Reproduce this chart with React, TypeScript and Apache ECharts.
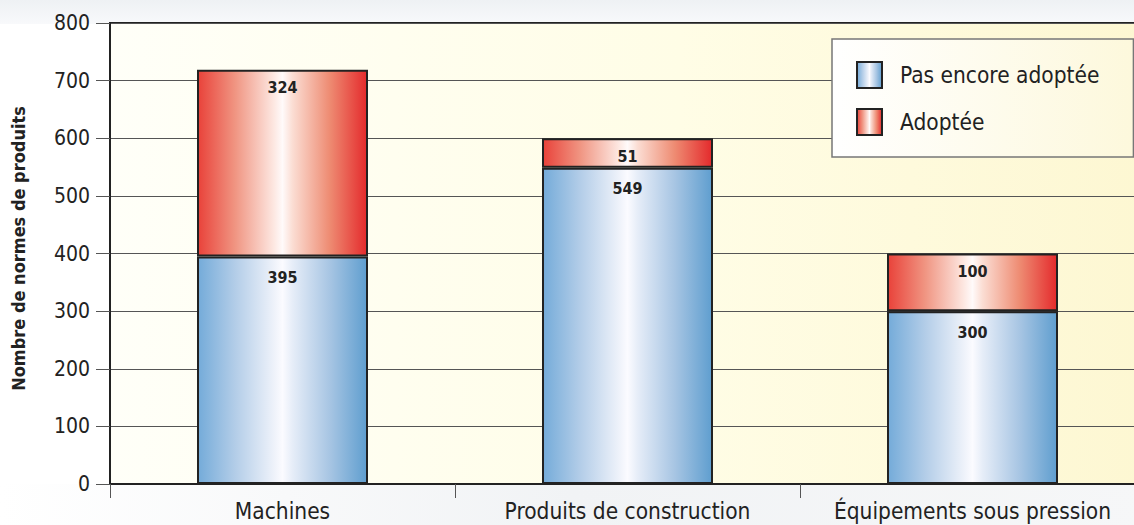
import React, { useEffect, useRef } from "react";
import * as echarts from "echarts";

const categories = ["Machines", "Produits de construction", "Équipements sous pression"];
const notAdopted = [395, 549, 300];
const adopted = [324, 51, 100];
const seriesNames = ["Pas encore adoptée", "Adoptée"];
const yAxisTitle = "Nombre de normes de produits";
const yMin = 0;
const yMax = 800;
const yInterval = 100;

const FONT = "'DejaVu Sans Condensed', 'DejaVu Sans', sans-serif";

const blueGrad = {
  type: "linear", x: 0, y: 0, x2: 1, y2: 0,
  colorStops: [
    { offset: 0, color: "#74abd9" },
    { offset: 0.22, color: "#b3cde8" },
    { offset: 0.45, color: "#eef2fa" },
    { offset: 0.5, color: "#fbfbff" },
    { offset: 0.56, color: "#e6edf8" },
    { offset: 0.78, color: "#a7c5e3" },
    { offset: 1, color: "#5f9ecf" },
  ],
};
const redGrad = {
  type: "linear", x: 0, y: 0, x2: 1, y2: 0,
  colorStops: [
    { offset: 0, color: "#e9423a" },
    { offset: 0.22, color: "#f09582" },
    { offset: 0.45, color: "#fde8e2" },
    { offset: 0.5, color: "#fffafa" },
    { offset: 0.56, color: "#fbddd3" },
    { offset: 0.78, color: "#ee8b72" },
    { offset: 1, color: "#e42a2c" },
  ],
};

export default function App() {
  const ref = useRef<HTMLDivElement>(null);
  useEffect(() => {
    if (!ref.current) return;
    const chart = echarts.init(ref.current, null, { renderer: "svg" });
    const labelBase = {
      show: true,
      position: "insideTop",
      fontFamily: FONT,
      fontWeight: "bold",
      fontSize: 16,
      color: "#222",
    };
    chart.setOption({
      animation: false,
      backgroundColor: "#ffffff",
      graphic: [
        {
          type: "rect",
          silent: true,
          z: -10,
          shape: { x: 0, y: 0, width: 1146, height: 24 },
          style: {
            fill: {
              type: "linear", x: 0, y: 0, x2: 0, y2: 1,
              colorStops: [
                { offset: 0, color: "#eef1f4" },
                { offset: 1, color: "#f8f9fb" },
              ],
            },
          },
        },
        {
          type: "rect",
          silent: true,
          z: -10,
          shape: { x: 0, y: 484, width: 1146, height: 41 },
          style: {
            fill: {
              type: "linear", x: 0, y: 0, x2: 1, y2: 0,
              colorStops: [
                { offset: 0, color: "#ffffff" },
                { offset: 0.5, color: "#f1f3f5" },
                { offset: 1, color: "#f6f7f8" },
              ],
            },
          },
        },
      ],
      grid: {
        left: 110,
        top: 23,
        right: 1,
        bottom: 41,
        show: true,
        borderColor: "#222",
        borderWidth: 2,
        backgroundColor: {
          type: "linear", x: 0, y: 0, x2: 1, y2: 0,
          colorStops: [
            { offset: 0, color: "#fffff8" },
            { offset: 0.55, color: "#fffde6" },
            { offset: 1, color: "#fdf7d2" },
          ],
        },
      },
      legend: {
        orient: "vertical",
        left: 832,
        top: 39,
        padding: [22, 34, 21, 24],
        itemGap: 19,
        itemWidth: 25,
        itemHeight: 26,
        icon: "rect",
        backgroundColor: {
          type: "linear", x: 0, y: 0, x2: 1, y2: 0,
          colorStops: [
            { offset: 0, color: "#ffffff" },
            { offset: 1, color: "#fdf8dc" },
          ],
        },
        borderColor: "#777",
        borderWidth: 1.5,
        borderRadius: 0,
        textStyle: {
          fontFamily: FONT,
          fontSize: 22.5,
          color: "#222",
          lineHeight: 26,
          padding: [0, 0, 0, 13],
        },
        data: seriesNames,
      },
      xAxis: {
        type: "category",
        data: categories,
        axisLine: { show: true, lineStyle: { color: "#222", width: 2 } },
        axisTick: { show: true, length: 14, lineStyle: { color: "#555", width: 1 } },
        axisLabel: {
          interval: 0,
          fontFamily: FONT,
          fontSize: 22.5,
          color: "#222",
          margin: 15,
        },
        splitLine: { show: false },
      },
      yAxis: {
        type: "value",
        min: yMin,
        max: yMax,
        interval: yInterval,
        name: yAxisTitle,
        nameLocation: "middle",
        nameGap: 83,
        nameRotate: 90,
        nameTextStyle: {
          fontFamily: FONT,
          fontWeight: "bold",
          fontSize: 18,
          color: "#222",
          padding: [0, 0, 0, 10],
        },
        axisLine: { show: true, lineStyle: { color: "#222", width: 2 } },
        axisTick: { show: true, length: 14, lineStyle: { color: "#555", width: 1 } },
        axisLabel: {
          fontFamily: FONT,
          fontSize: 21,
          color: "#222",
          margin: 20,
        },
        splitLine: { show: true, lineStyle: { color: "#555", width: 1 } },
      },
      series: [
        {
          name: seriesNames[0],
          type: "bar",
          stack: "total",
          barWidth: 171,
          data: notAdopted,
          itemStyle: { color: blueGrad, borderColor: "#222", borderWidth: 2 },
          label: { ...labelBase, distance: 13 },
        },
        {
          name: seriesNames[1],
          type: "bar",
          stack: "total",
          barWidth: 171,
          data: adopted,
          itemStyle: { color: redGrad, borderColor: "#222", borderWidth: 2 },
          label: { ...labelBase, distance: 10 },
        },
      ],
    });
    return () => chart.dispose();
  }, []);
  return (
    <div style={{ position: "absolute", left: 0, top: 0, width: 1134, height: 525, overflow: "hidden" }}>
      <div ref={ref} style={{ width: 1146, height: 525 }} />
    </div>
  );
}
